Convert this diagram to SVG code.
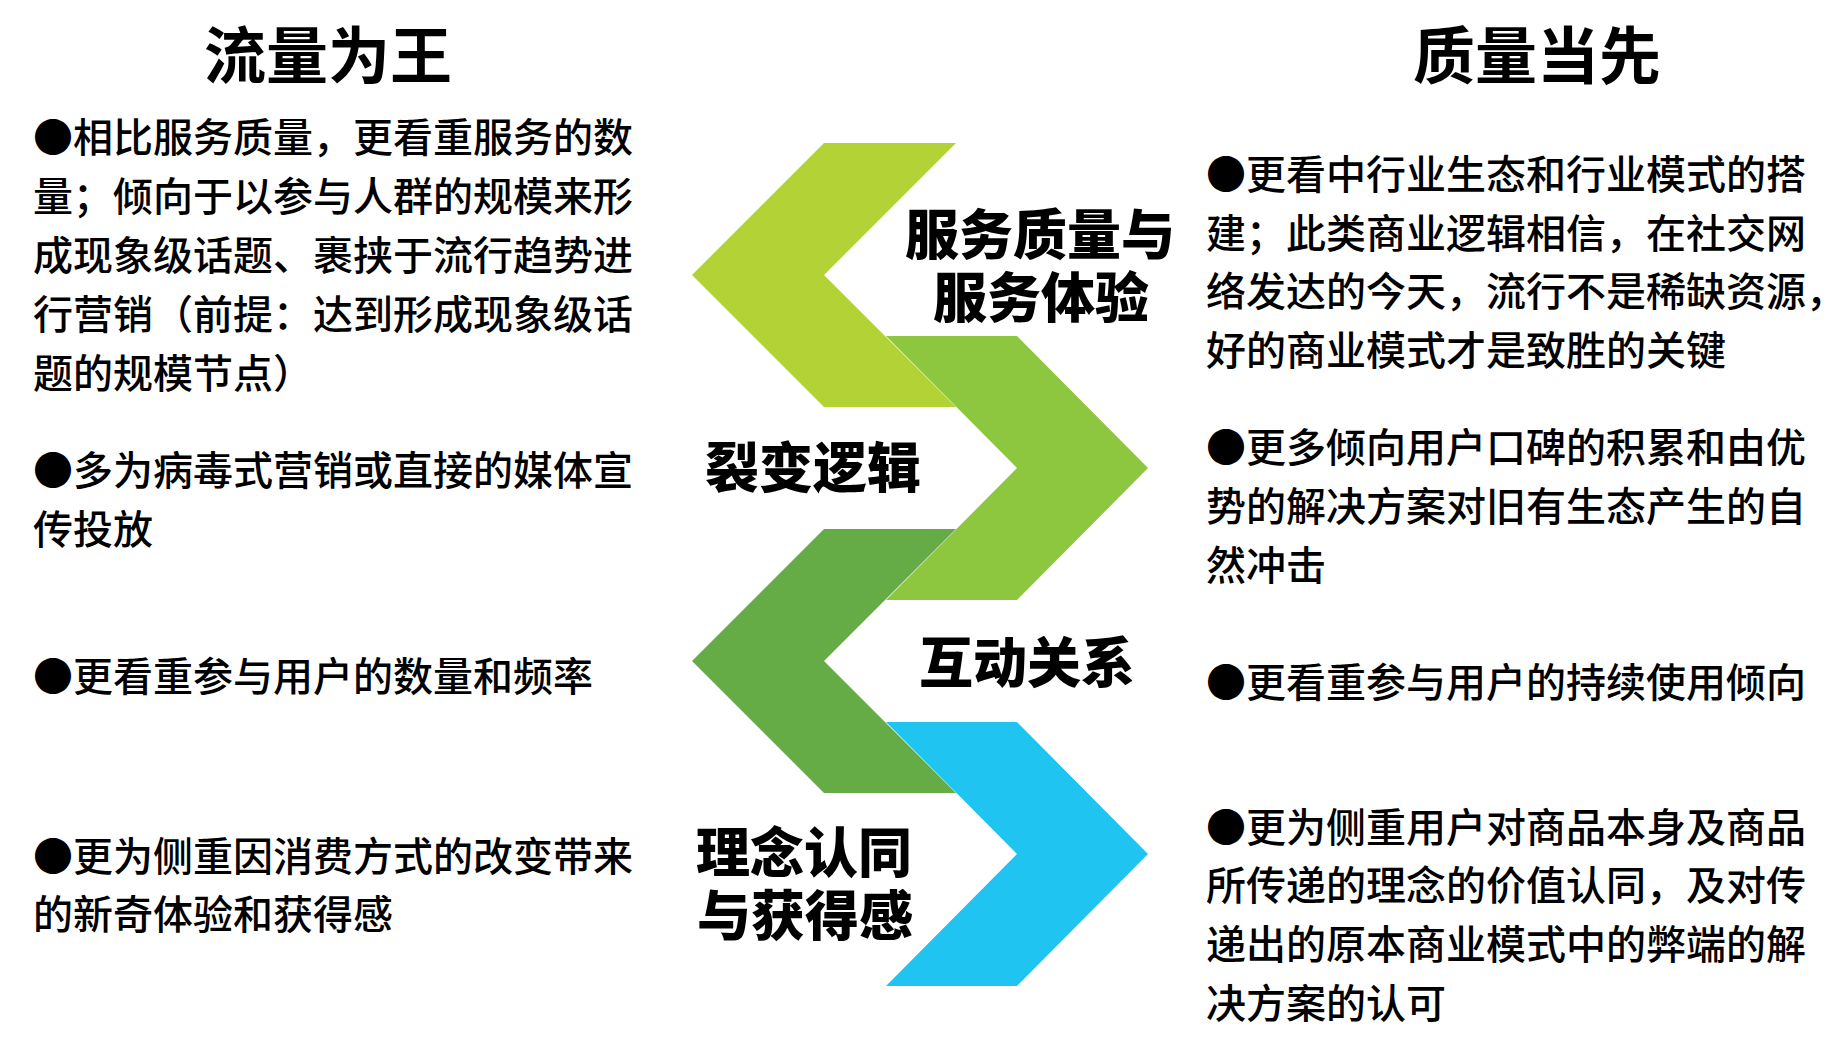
<svg xmlns="http://www.w3.org/2000/svg" width="1845" height="1041" viewBox="0 0 1845 1041">
<style>
.t{font-family:"Noto Sans CJK SC","Noto Sans",sans-serif;fill:#000;}
.title{font-size:62px;font-weight:700;text-anchor:middle;}
.body{font-size:40px;font-weight:500;}
.lbl{font-size:54px;font-weight:900;text-anchor:middle;}
</style>
<rect width="1845" height="1041" fill="#fff"/>
<g id="chevrons">
<polygon id="chev1" points="692,275 824,143 956,143 824,275 956,407 824,407" fill="#B2D235"/>
<polygon id="chev2" points="886,336 1017,336 1148,468 1017,600 886,600 1017,468" fill="#8DC63F"/>
<polygon id="chev3" points="692,661 824,529 956,529 824,661 956,793 824,793" fill="#66AC46"/>
<polygon id="chev4" points="886,722 1017,722 1148,854 1017,986 886,986 1017,854" fill="#1FC5F0"/>
</g>
<g id="titles">
<text class="t title" x="328" y="79">流量为王</text>
<text class="t title" x="1537" y="79">质量当先</text>
</g>
<g id="labels">
<text class="t lbl" x="1040" y="255">服务质量与</text>
<text class="t lbl" x="1041" y="318">服务体验</text>
<text class="t lbl" x="813" y="488">裂变逻辑</text>
<text class="t lbl" x="1027" y="683">互动关系</text>
<text class="t lbl" x="804" y="873">理念认同</text>
<text class="t lbl" x="805" y="936">与获得感</text>
</g>
<g id="left-text" class="t body">
<text x="33" y="152">●相比服务质量，更看重服务的数</text>
<text x="33" y="211">量；倾向于以参与人群的规模来形</text>
<text x="33" y="270">成现象级话题、裹挟于流行趋势进</text>
<text x="33" y="329">行营销（前提：达到形成现象级话</text>
<text x="33" y="388">题的规模节点）</text>
<text x="33" y="485">●多为病毒式营销或直接的媒体宣</text>
<text x="33" y="544">传投放</text>
<text x="33" y="691">●更看重参与用户的数量和频率</text>
<text x="33" y="871">●更为侧重因消费方式的改变带来</text>
<text x="33" y="929">的新奇体验和获得感</text>
</g>
<g id="right-text" class="t body">
<text x="1206" y="189">●更看中行业生态和行业模式的搭</text>
<text x="1206" y="248">建；此类商业逻辑相信，在社交网</text>
<text x="1206" y="306">络发达的今天，流行不是稀缺资源，</text>
<text x="1206" y="365">好的商业模式才是致胜的关键</text>
<text x="1206" y="462">●更多倾向用户口碑的积累和由优</text>
<text x="1206" y="521">势的解决方案对旧有生态产生的自</text>
<text x="1206" y="580">然冲击</text>
<text x="1206" y="697">●更看重参与用户的持续使用倾向</text>
<text x="1206" y="842">●更为侧重用户对商品本身及商品</text>
<text x="1206" y="900">所传递的理念的价值认同，及对传</text>
<text x="1206" y="959">递出的原本商业模式中的弊端的解</text>
<text x="1206" y="1018">决方案的认可</text>
</g>
</svg>
